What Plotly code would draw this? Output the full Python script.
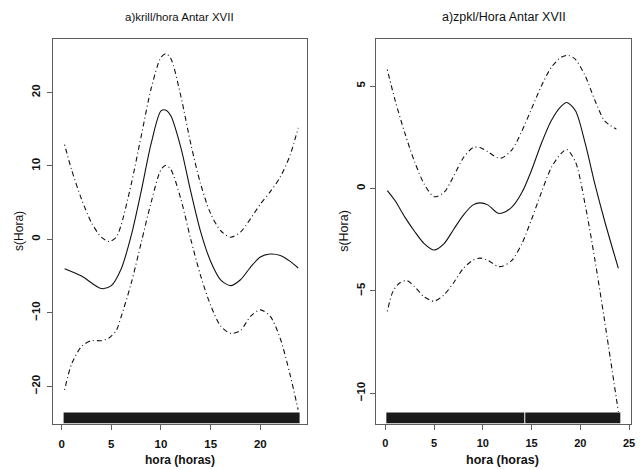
import plotly.graph_objects as go

# ---------------- data ----------------
# Left panel: krill / hora
hora_a = [0.3, 2, 4, 5, 6, 7, 8, 9, 10, 10.5, 11, 12, 13, 14, 15, 16, 17, 18, 19, 20, 21, 22, 23, 23.8]
fit_a = [-4.0, -5.0, -6.7, -6.3, -4.0, 0.5, 6.5, 13.0, 17.5, 17.6, 16.8, 12.5, 6.5, 1.0, -3.0, -5.5, -6.3,
         -5.5, -3.8, -2.4, -2.0, -2.2, -3.0, -3.9]
hora_a_ci = [0.3, 1, 2, 3, 4, 4.8, 5.5, 6, 7, 8, 9, 10, 10.5, 11, 12, 13, 14, 15, 16, 17, 18, 19, 20, 21, 22, 23, 23.8]
upper_a = [12.9, 9.5, 5.5, 2.3, 0.3, -0.3, 0.3, 2.0, 7.5, 14.0, 20.5, 24.8, 25.3, 24.6, 19.5, 13.0, 7.5, 3.5,
           1.2, 0.3, 1.0, 2.8, 4.8, 6.5, 8.5, 11.5, 15.2]
lower_a = [-20.5, -17.0, -14.6, -13.8, -13.8, -13.4, -12.4, -10.5, -6.0, -0.5, 5.0, 9.5, 10.1, 9.5, 5.5, 0.0,
           -5.0, -9.0, -11.8, -12.8, -12.4, -10.5, -9.6, -10.5, -13.5, -18.5, -23.2]
rug_a = [[0.2, 23.95]]

# Right panel: zpkl / Hora
hora_b = [0.2, 1, 2, 3, 4, 5, 6, 7, 8, 9, 9.7, 10.5, 11.5, 12, 13, 14, 15, 16, 17, 18, 18.6, 19.5, 20.5, 21.5, 22.5, 23.9]
fit_b = [-0.1, -0.6, -1.4, -2.1, -2.7, -3.0, -2.7, -2.0, -1.3, -0.8, -0.7, -0.8, -1.2, -1.2, -0.9, -0.2, 0.9,
         2.2, 3.3, 4.0, 4.2, 3.8, 2.2, 0.2, -1.6, -3.9]
hora_b_up = [0.2, 1, 2, 3, 4, 5, 6, 7, 8, 9, 9.7, 10.5, 11.5, 12, 13, 14, 15, 16, 17, 18, 18.8, 19.5, 20.5, 21.5, 22.5, 23.7]
upper_b = [5.8, 4.3, 2.7, 1.3, 0.2, -0.4, -0.2, 0.6, 1.5, 2.0, 2.0, 1.8, 1.5, 1.5, 1.9, 2.8, 3.9, 5.0, 5.9,
           6.4, 6.5, 6.3, 5.5, 4.3, 3.3, 2.9]
hora_b_lo = [0.2, 0.8, 1.5, 2.2, 3, 4, 5, 6, 7, 8, 9, 9.7, 10.5, 11.5, 12, 13, 14, 15, 16, 17, 18, 18.6, 19.5,
             20.5, 21.5, 22.5, 23.9]
lower_b = [-6.0, -5.0, -4.6, -4.5, -4.8, -5.3, -5.5, -5.2, -4.6, -3.9, -3.5, -3.4, -3.5, -3.8, -3.8, -3.5, -2.7,
           -1.5, -0.2, 1.0, 1.7, 1.9, 1.3, -0.8, -3.5, -6.5, -10.9]
rug_b = [[0.1, 14.25], [14.35, 24.1]]

titles = ["a)krill/hora Antar XVII", "a)zpkl/Hora Antar XVII"]
x_title = "hora (horas)"
y_title = "s(Hora)"
xticks_a = [0, 5, 10, 15, 20]
xticks_b = [0, 5, 10, 15, 20, 25]
yticks_a = [-20, -10, 0, 10, 20]
yticks_b = [-10, -5, 0, 5]

# ---------------- figure ----------------
W, H = 640, 470
FONT = "Liberation Sans, Arial, sans-serif"
DASH = "1px,3px,5px,3px"

fig = go.Figure()

def add_line(x, y, xa, ya, dash=None):
    fig.add_trace(go.Scatter(x=x, y=y, mode="lines", xaxis=xa, yaxis=ya,
                             line=dict(color="#111111", width=1.1, shape="spline", smoothing=0.8,
                                       dash=dash if dash else "solid"),
                             showlegend=False, hoverinfo="skip"))

add_line(hora_a, fit_a, "x", "y")
add_line(hora_a_ci, upper_a, "x", "y", DASH)
add_line(hora_a_ci, lower_a, "x", "y", DASH)
add_line(hora_b, fit_b, "x2", "y2")
add_line(hora_b_up, upper_b, "x2", "y2", DASH)
add_line(hora_b_lo, lower_b, "x2", "y2", DASH)

# rug bands
for seg in rug_a:
    fig.add_shape(type="rect", xref="x", yref="y domain", x0=seg[0], x1=seg[1], y0=0.002, y1=0.03,
                  fillcolor="#1a1a1a", line=dict(width=0))
for seg in rug_b:
    fig.add_shape(type="rect", xref="x2", yref="y2 domain", x0=seg[0], x1=seg[1], y0=0.002, y1=0.03,
                  fillcolor="#1a1a1a", line=dict(width=0))

def px_x(p):
    return p / W

def px_y(p):
    return 1 - p / H

ydom = [px_y(424), px_y(39)]

def axis_common(size):
    return dict(showgrid=False, zeroline=False, showline=True, linecolor="#5e5e5e", linewidth=1,
                mirror=True, ticks="outside", ticklen=5, tickcolor="#5e5e5e",
                tickfont=dict(family=FONT, size=size, color="#111111", weight="bold"))

fig.update_layout(
    width=W, height=H, margin=dict(l=0, r=0, t=0, b=0),
    paper_bgcolor="white", plot_bgcolor="white",
    xaxis=dict(domain=[px_x(53), px_x(309)], range=[-0.9, 24.7], tickvals=xticks_a, anchor="y",
               ticklabelstandoff=4, **axis_common(11.5)),
    yaxis=dict(domain=ydom, range=[-25.15, 27.3], tickvals=yticks_a, tickangle=-90, anchor="x",
               ticklabelstandoff=2, **axis_common(11.5)),
    xaxis2=dict(domain=[px_x(378), px_x(635)], range=[-1.0, 25.2], tickvals=xticks_b, anchor="y2",
                ticklabelstandoff=4, **axis_common(11)),
    yaxis2=dict(domain=ydom, range=[-11.5, 7.3], tickvals=yticks_b, tickangle=-90, anchor="x2",
                ticklabelstandoff=0, **axis_common(11.5)),
)

annots = [
    dict(text=titles[0], x=px_x(181), y=px_y(17), font=dict(size=11.5)),
    dict(text=titles[1], x=px_x(507), y=px_y(17), font=dict(size=12.5)),
    dict(text=x_title, x=px_x(181), y=px_y(460), font=dict(size=12, weight="bold")),
    dict(text=x_title, x=px_x(506), y=px_y(460), font=dict(size=12.5, weight="bold")),
    dict(text=y_title, x=px_x(19), y=px_y(231), textangle=-90, font=dict(size=12)),
    dict(text=y_title, x=px_x(346), y=px_y(231), textangle=-90, font=dict(size=12.5)),
]
for a in annots:
    f = dict(family=FONT, color="#111111")
    f.update(a.pop("font"))
    fig.add_annotation(xref="paper", yref="paper", showarrow=False, xanchor="center", yanchor="middle",
                       font=f, **a)

fig.write_html("out.html")
